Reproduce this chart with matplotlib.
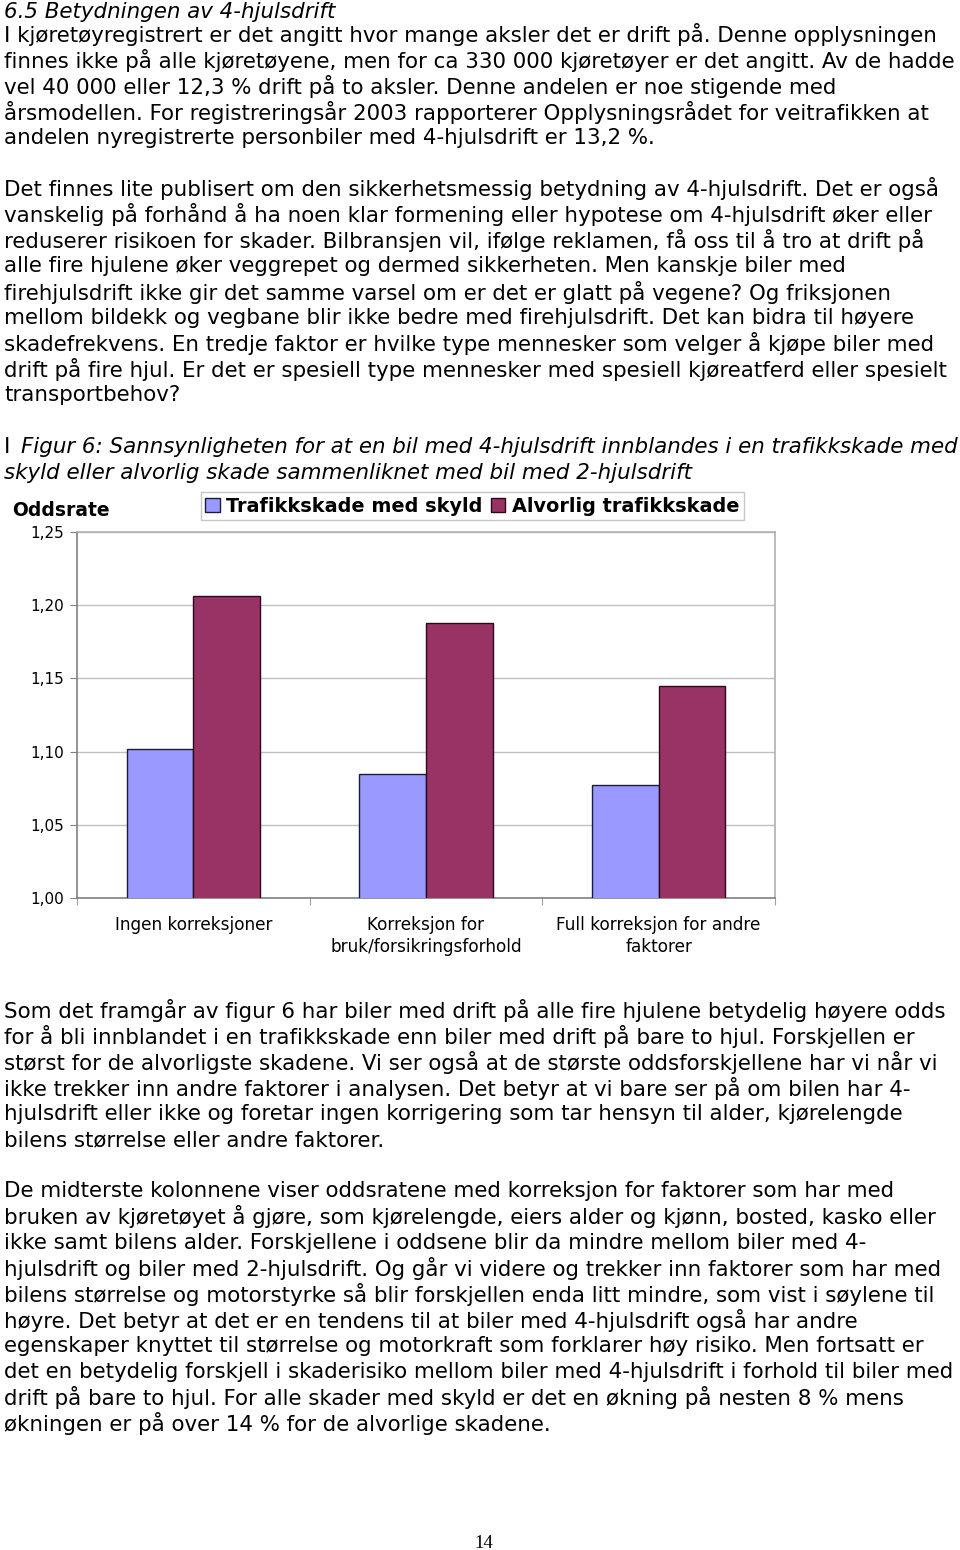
import numpy as np
import matplotlib.pyplot as plt
from matplotlib.patches import Patch

plt.rcParams['font.family'] = ['DejaVu Sans']

# Chart data (odds ratios, 4WD vs 2WD)
categories = ["Ingen korreksjoner", "Korreksjon for\nbruk/forsikringsforhold", "Full korreksjon for andre\nfaktorer"]
skyld = [1.102, 1.085, 1.077]
alvorlig = [1.206, 1.188, 1.145]
series_names = ["Trafikkskade med skyld", "Alvorlig trafikkskade"]
yticks = [1.00, 1.05, 1.10, 1.15, 1.20, 1.25]

heading = "6.5 Betydningen av 4-hjulsdrift"
para1 = [
    "I kjøretøyregistrert er det angitt hvor mange aksler det er drift på. Denne opplysningen",
    "finnes ikke på alle kjøretøyene, men for ca 330 000 kjøretøyer er det angitt. Av de hadde",
    "vel 40 000 eller 12,3 % drift på to aksler. Denne andelen er noe stigende med",
    "årsmodellen. For registreringsår 2003 rapporterer Opplysningsrådet for veitrafikken at",
    "andelen nyregistrerte personbiler med 4-hjulsdrift er 13,2 %.",
]
para2 = [
    "Det finnes lite publisert om den sikkerhetsmessig betydning av 4-hjulsdrift. Det er også",
    "vanskelig på forhånd å ha noen klar formening eller hypotese om 4-hjulsdrift øker eller",
    "reduserer risikoen for skader. Bilbransjen vil, ifølge reklamen, få oss til å tro at drift på",
    "alle fire hjulene øker veggrepet og dermed sikkerheten. Men kanskje biler med",
    "firehjulsdrift ikke gir det samme varsel om er det er glatt på vegene? Og friksjonen",
    "mellom bildekk og vegbane blir ikke bedre med firehjulsdrift. Det kan bidra til høyere",
    "skadefrekvens. En tredje faktor er hvilke type mennesker som velger å kjøpe biler med",
    "drift på fire hjul. Er det er spesiell type mennesker med spesiell kjøreatferd eller spesielt",
    "transportbehov?",
]
caption = [
    "Figur 6: Sannsynligheten for at en bil med 4-hjulsdrift innblandes i en trafikkskade med",
    "skyld eller alvorlig skade sammenliknet med bil med 2-hjulsdrift",
]
para3 = [
    "Som det framgår av figur 6 har biler med drift på alle fire hjulene betydelig høyere odds",
    "for å bli innblandet i en trafikkskade enn biler med drift på bare to hjul. Forskjellen er",
    "størst for de alvorligste skadene. Vi ser også at de største oddsforskjellene har vi når vi",
    "ikke trekker inn andre faktorer i analysen. Det betyr at vi bare ser på om bilen har 4-",
    "hjulsdrift eller ikke og foretar ingen korrigering som tar hensyn til alder, kjørelengde",
    "bilens størrelse eller andre faktorer.",
]
para4 = [
    "De midterste kolonnene viser oddsratene med korreksjon for faktorer som har med",
    "bruken av kjøretøyet å gjøre, som kjørelengde, eiers alder og kjønn, bosted, kasko eller",
    "ikke samt bilens alder. Forskjellene i oddsene blir da mindre mellom biler med 4-",
    "hjulsdrift og biler med 2-hjulsdrift. Og går vi videre og trekker inn faktorer som har med",
    "bilens størrelse og motorstyrke så blir forskjellen enda litt mindre, som vist i søylene til",
    "høyre. Det betyr at det er en tendens til at biler med 4-hjulsdrift også har andre",
    "egenskaper knyttet til størrelse og motorkraft som forklarer høy risiko. Men fortsatt er",
    "det en betydelig forskjell i skaderisiko mellom biler med 4-hjulsdrift i forhold til biler med",
    "drift på bare to hjul. For alle skader med skyld er det en økning på nesten 8 % mens",
    "økningen er på over 14 % for de alvorlige skadene.",
]

W, H = 960, 1550
fig = plt.figure(figsize=(W / 100, H / 100), dpi=100)

BODY = 15.4
LH = 25.8


def put_lines(lines, y0, x=4, style='normal'):
    for i, s in enumerate(lines):
        fig.text(x / W, 1 - (y0 + i * LH) / H, s, fontsize=BODY, style=style,
                 va='center', ha='left', color='black')


put_lines([heading], 12, style='italic')
put_lines(para1, 35)
put_lines(para2, 189)
fig.text(4 / W, 1 - 447 / H, "I", fontsize=BODY, va='center', ha='left')
put_lines(caption[:1], 447, x=21, style='italic')
put_lines(caption[1:], 473, style='italic')
put_lines(para3, 1011)
put_lines(para4, 1191)
fig.text(484 / W, 1 - 1543 / H, "14", fontsize=13.5, family='Liberation Serif',
         va='center', ha='center')

# Chart
ax = fig.add_axes([77 / W, 1 - 898 / H, (775 - 77) / W, (898 - 532) / H])
x = np.arange(len(categories))
bw = 0.286
c_blue = '#9999FF'
c_red = '#993366'
ax.bar(x - bw / 2, skyld, bw, color=c_blue, edgecolor='#1a1a3a', linewidth=1.0, zorder=3)
ax.bar(x + bw / 2, alvorlig, bw, color=c_red, edgecolor='#2a0a1a', linewidth=1.0, zorder=3)

ax.set_ylim(1.0, 1.25)
ax.set_xlim(-0.5, len(categories) - 0.5)
ax.set_yticks(yticks)
ax.set_yticklabels([f"{v:.2f}".replace('.', ',') for v in yticks], fontsize=11)
ax.yaxis.grid(True, color='#c0c0c0', linewidth=1.0, zorder=0)
ax.tick_params(axis='y', length=5, color='#808080', pad=4)

ax.set_xticks(np.arange(len(categories) + 1) - 0.5)
ax.set_xticklabels([])
ax.tick_params(axis='x', which='major', length=5, color='#a0a0a0')
ax.set_xticks(x, minor=True)
ax.set_xticklabels(categories, minor=True, fontsize=12.2, va='top', linespacing=1.25)
ax.tick_params(axis='x', which='minor', length=0, pad=13)

for side, col in [('left', '#808080'), ('bottom', '#808080'), ('top', '#b0b0b0'), ('right', '#b0b0b0')]:
    ax.spines[side].set_color(col)
    ax.spines[side].set_linewidth(1.2)

fig.text(12 / W, 1 - 511 / H, "Oddsrate", fontsize=13.5, fontweight='bold', va='center', ha='left')

handles = [Patch(facecolor=c_blue, edgecolor='#1a1a3a', label=series_names[0]),
           Patch(facecolor=c_red, edgecolor='#2a0a1a', label=series_names[1])]
leg = fig.legend(handles=handles, loc='center left', bbox_to_anchor=(201 / W, 1 - 506 / H),
                 ncol=2, frameon=True, fancybox=False, edgecolor='#b8b8b8',
                 prop={'size': 13.9, 'weight': 'bold'}, handlelength=0.75, handleheight=0.75,
                 handletextpad=0.35, columnspacing=0.4, borderpad=0.22, borderaxespad=0)
leg.get_frame().set_linewidth(1.0)

fig.savefig("out.png", dpi=100, facecolor='white')
